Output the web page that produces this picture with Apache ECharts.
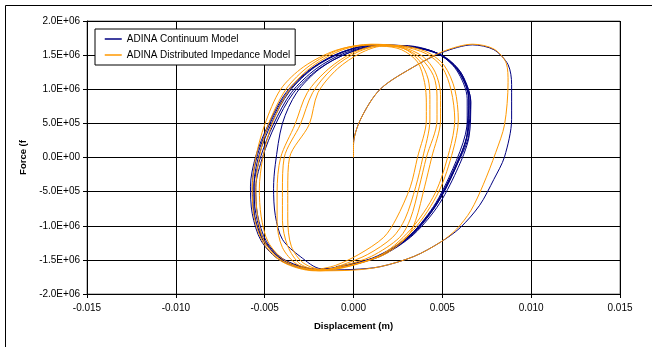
<!DOCTYPE html>
<html><head><meta charset="utf-8">
<script src="https://cdn.jsdelivr.net/npm/echarts@6/dist/echarts.min.js"></script>
<style>html,body{margin:0;padding:0;background:#fff}#c{width:652px;height:347px}</style>
</head><body><div id="c"></div><script>
// Tick labels
const xTickValues = [-0.015, -0.010, -0.005, 0, 0.005, 0.010, 0.015];
const xTickLabels = ['-0.015', '-0.010', '-0.005', '0.000', '0.005', '0.010', '0.015'];
const yTickValues = [-2.0e6, -1.5e6, -1.0e6, -0.5e6, 0, 0.5e6, 1.0e6, 1.5e6, 2.0e6];
const yTickLabels = ['-2.0E+06', '-1.5E+06', '-1.0E+06', '-5.0E+05', '0.0E+00', '5.0E+05', '1.0E+06', '1.5E+06', '2.0E+06'];
const seriesNames = ['ADINA Continuum Model', 'ADINA Distributed Impedance Model'];

// Data: [displacement (m), force (MN)]
const blueLoad = [[0,0],[0,0.19],[0.0004,0.56],[0.0015,1.00],[0.0034,1.33],[0.0050,1.54],[0.0067,1.65],[0.0079,1.58],[0.0087,1.36],[0.0089,1.07],[0.0089,0.56],[0.0085,0.01],[0.0079,-0.32],[0.0071,-0.70],[0.0060,-1.03],[0.0049,-1.24],[0.0034,-1.45],[0.0015,-1.60],[0,-1.64]];
const blueLoop1 = [[-0.0022,-1.65],[-0.0041,-1.51],[-0.0052,-1.22],[-0.0057,-0.82],[-0.0058,-0.42],[-0.0055,0.02],[-0.0048,0.48],[-0.0038,0.95],[-0.0024,1.30],[-0.0008,1.53],[0.0010,1.64],[0.0029,1.64],[0.0046,1.54],[0.0058,1.30],[0.0065,0.88],[0.0065,0.38],[0.0058,-0.12],[0.0047,-0.68],[0.0032,-1.16],[0.0012,-1.47]];
const blueLoop2 = [[-0.0020,-1.64],[-0.0039,-1.51],[-0.0051,-1.21],[-0.0056,-0.81],[-0.0057,-0.40],[-0.0054,0.04],[-0.0047,0.50],[-0.0037,0.96],[-0.0023,1.31],[-0.0007,1.54],[0.0011,1.65],[0.0030,1.63],[0.0047,1.53],[0.0058,1.28],[0.0064,0.86],[0.0064,0.36],[0.0057,-0.14],[0.0046,-0.70],[0.0031,-1.17],[0.0011,-1.48]];
const blueLoop3 = [[-0.0021,-1.65],[-0.0040,-1.50],[-0.0051,-1.19],[-0.0056,-0.78],[-0.0056,-0.38],[-0.0053,0.05],[-0.0046,0.51],[-0.0036,0.97],[-0.0022,1.32],[-0.0006,1.54],[0.0012,1.65],[0.0031,1.63],[0.0048,1.52],[0.0059,1.27],[0.0065,0.84],[0.0063,0.34],[0.0056,-0.16],[0.0045,-0.72],[0.0030,-1.18],[0.0010,-1.49]];
const blueLoop4 = [[-0.0019,-1.64],[-0.0038,-1.51],[-0.0050,-1.22],[-0.0055,-0.82],[-0.0056,-0.42],[-0.0052,0.03],[-0.0045,0.49],[-0.0035,0.95],[-0.0021,1.30],[-0.0005,1.53],[0.0013,1.64],[0.0032,1.62],[0.0049,1.50],[0.0060,1.24],[0.0066,0.82],[0.0064,0.32],[0.0057,-0.18],[0.0046,-0.72],[0.0031,-1.17],[0.0011,-1.48]];
const blueLoop5 = [[-0.0020,-1.65],[-0.0038,-1.52],[-0.0049,-1.23],[-0.0054,-0.84],[-0.0055,-0.44],[-0.0051,0.02],[-0.0044,0.48],[-0.0034,0.94],[-0.0020,1.29],[-0.0004,1.52],[0.0014,1.64],[0.0033,1.62],[0.0050,1.49],[0.0061,1.22],[0.0066,0.80],[0.0065,0.30],[0.0058,-0.20],[0.0047,-0.73],[0.0032,-1.17],[0.0012,-1.48]];
const blueLoop6 = [[-0.0018,-1.63],[-0.0030,-1.45],[-0.0040,-1.20],[-0.0044,-0.85],[-0.0045,-0.45],[-0.0044,-0.10],[-0.0040,0.50],[-0.0032,0.95],[-0.0019,1.30],[-0.0003,1.53],[0.0015,1.64],[0.0034,1.62],[0.0051,1.48],[0.0061,1.22],[0.0065,0.80],[0.0064,0.34],[0.0057,-0.16],[0.0046,-0.70],[0.0031,-1.16],[0.0011,-1.47],[-0.0010,-1.60]];

const orangeLoad = [[0,0],[0,0.19],[0.0004,0.56],[0.0015,1.00],[0.0034,1.33],[0.0050,1.55],[0.0067,1.66],[0.0079,1.59],[0.0086,1.38],[0.0087,1.10],[0.0085,0.48],[0.0080,0.07],[0.0073,-0.40],[0.0066,-0.78],[0.0058,-1.05],[0.0049,-1.24],[0.0034,-1.45],[0.0015,-1.60],[0,-1.65]];
const orangeLoop1 = [[-0.0022,-1.66],[-0.0040,-1.53],[-0.0051,-1.24],[-0.0056,-0.86],[-0.0057,-0.46],[-0.0055,0.00],[-0.0050,0.48],[-0.0041,1.00],[-0.0028,1.33],[-0.0010,1.57],[0.0008,1.65],[0.0026,1.64],[0.0041,1.55],[0.0051,1.35],[0.0057,1.00],[0.0059,0.55],[0.0056,0.10],[0.0048,-0.50],[0.0034,-1.05],[0.0014,-1.45]];
const orangeLoop2 = [[-0.0021,-1.65],[-0.0039,-1.53],[-0.0050,-1.24],[-0.0054,-0.86],[-0.0055,-0.46],[-0.0053,0.00],[-0.0048,0.48],[-0.0038,1.00],[-0.0025,1.34],[-0.0008,1.58],[0.0010,1.66],[0.0027,1.63],[0.0041,1.52],[0.0050,1.32],[0.0055,0.98],[0.0057,0.55],[0.0054,0.10],[0.0046,-0.52],[0.0032,-1.06],[0.0013,-1.46]];
const orangeLoop3 = [[-0.0021,-1.65],[-0.0038,-1.52],[-0.0048,-1.24],[-0.0052,-0.86],[-0.0053,-0.46],[-0.0051,0.00],[-0.0046,0.48],[-0.0036,1.00],[-0.0023,1.34],[-0.0006,1.58],[0.0011,1.65],[0.0027,1.62],[0.0039,1.48],[0.0046,1.25],[0.0049,0.92],[0.0049,0.55],[0.0044,0.00],[0.0040,-0.43],[0.0035,-0.92],[0.0030,-1.17],[0.0015,-1.45]];
const orangeLoop4 = [[-0.0019,-1.66],[-0.0032,-1.56],[-0.0040,-1.32],[-0.0043,-0.95],[-0.0043,-0.50],[-0.0041,0.00],[-0.0033,0.48],[-0.0026,0.95],[-0.0014,1.30],[0.0000,1.54],[0.0015,1.64],[0.0028,1.60],[0.0038,1.45],[0.0045,1.20],[0.0047,0.90],[0.0047,0.55],[0.0041,0.00],[0.0037,-0.43],[0.0032,-0.90],[0.0026,-1.17],[0.0010,-1.45],[-0.0005,-1.58]];
const orangeLoop5 = [[-0.0018,-1.65],[-0.0030,-1.56],[-0.0037,-1.30],[-0.0040,-0.92],[-0.0040,-0.48],[-0.0039,0.00],[-0.0030,0.48],[-0.0023,0.95],[-0.0012,1.30],[0.0002,1.54],[0.0016,1.64],[0.0028,1.60],[0.0037,1.42],[0.0042,1.15],[0.0043,0.85],[0.0043,0.55],[0.0039,0.00],[0.0035,-0.43],[0.0029,-0.90],[0.0022,-1.17],[0.0008,-1.42],[-0.0006,-1.57]];
const orangeLoop6 = [[-0.0016,-1.65],[-0.0028,-1.55],[-0.0035,-1.30],[-0.0037,-0.90],[-0.0037,-0.45],[-0.0036,0.00],[-0.0025,0.48],[-0.0020,0.95],[-0.0009,1.30],[0.0004,1.53],[0.0016,1.63],[0.0027,1.58],[0.0036,1.40],[0.0040,1.10],[0.0041,0.80],[0.0041,0.55],[0.0036,0.00],[0.0032,-0.43],[0.0024,-0.90],[0.0017,-1.17],[0.0003,-1.42],[-0.0010,-1.58],[-0.0020,-1.64]];

const toN = seg => seg.map(p => [p[0], p[1] * 1e6]);
const blueData = toN([].concat(blueLoad, blueLoop1, blueLoop2, blueLoop3, blueLoop4, blueLoop5, blueLoop6));
const orangeData = toN([].concat(orangeLoad, orangeLoop1, orangeLoop2, orangeLoop3, orangeLoop4, orangeLoop5, orangeLoop6));

function lookup(vals, labels, v) {
  for (let i = 0; i < vals.length; i++) {
    if (Math.abs(vals[i] - v) <= Math.abs(vals[i]) * 1e-6 + 1e-12) return labels[i];
  }
  return '';
}

const chart = echarts.init(document.getElementById('c'), null, {renderer: 'canvas'});
const font = 'Liberation Sans, Arial, sans-serif';
chart.setOption({
  animation: false,
  backgroundColor: '#fff',
  textStyle: {fontFamily: font},
  grid: {left: 87, right: 32, top: 21, bottom: 53, show: true, borderColor: '#808080', borderWidth: 1, backgroundColor: 'transparent'},
  legend: {
    left: 95, top: 29, orient: 'vertical',
    backgroundColor: '#fff', borderColor: '#000', borderWidth: 1, borderRadius: 0,
    padding: [5, 5, 5, 9], itemWidth: 17, itemHeight: 10, itemGap: 6,
    itemStyle: {opacity: 0},
    lineStyle: {width: 1.5},
    textStyle: {fontSize: 10, color: '#000', fontFamily: font},
    data: seriesNames
  },
  xAxis: {
    type: 'value', min: -0.015, max: 0.015, interval: 0.005,
    axisLine: {onZero: false, lineStyle: {color: '#000', width: 1}},
    axisTick: {show: true, length: 4, lineStyle: {color: '#000'}},
    axisLabel: {color: '#000', fontSize: 10, margin: 9, fontFamily: font,
      formatter: v => lookup(xTickValues, xTickLabels, v)},
    splitLine: {show: true, lineStyle: {color: '#000', width: 1}},
    name: 'Displacement (m)', nameLocation: 'middle', nameGap: 27,
    nameTextStyle: {fontWeight: 'bold', fontSize: 9.5, color: '#000', fontFamily: font}
  },
  yAxis: {
    type: 'value', min: -2e6, max: 2e6, interval: 5e5,
    axisLine: {show: true, onZero: false, lineStyle: {color: '#000', width: 1}},
    axisTick: {show: true, length: 4, lineStyle: {color: '#000'}},
    axisLabel: {color: '#000', fontSize: 10, margin: 7, fontFamily: font,
      formatter: v => lookup(yTickValues, yTickLabels, v)},
    splitLine: {show: true, lineStyle: {color: '#000', width: 1}},
    name: 'Force (f', nameLocation: 'middle', nameGap: 52,
    nameTextStyle: {fontWeight: 'bold', fontSize: 9.5, color: '#000', fontFamily: font}
  },
  graphic: [{
    type: 'rect', silent: true, z: -10,
    shape: {x: 5.5, y: 5.5, width: 700, height: 400},
    style: {fill: 'none', stroke: '#000', lineWidth: 1}
  }],
  series: [
    {name: seriesNames[0], type: 'line', data: blueData, symbol: 'none', smooth: 0.3,
      lineStyle: {color: '#000080', width: 1}, itemStyle: {color: '#000080'}, z: 2},
    {name: seriesNames[1], type: 'line', data: orangeData, symbol: 'none', smooth: 0.3,
      lineStyle: {color: '#FF9900', width: 1}, itemStyle: {color: '#FF9900'}, z: 3}
  ]
});
</script></body></html>
